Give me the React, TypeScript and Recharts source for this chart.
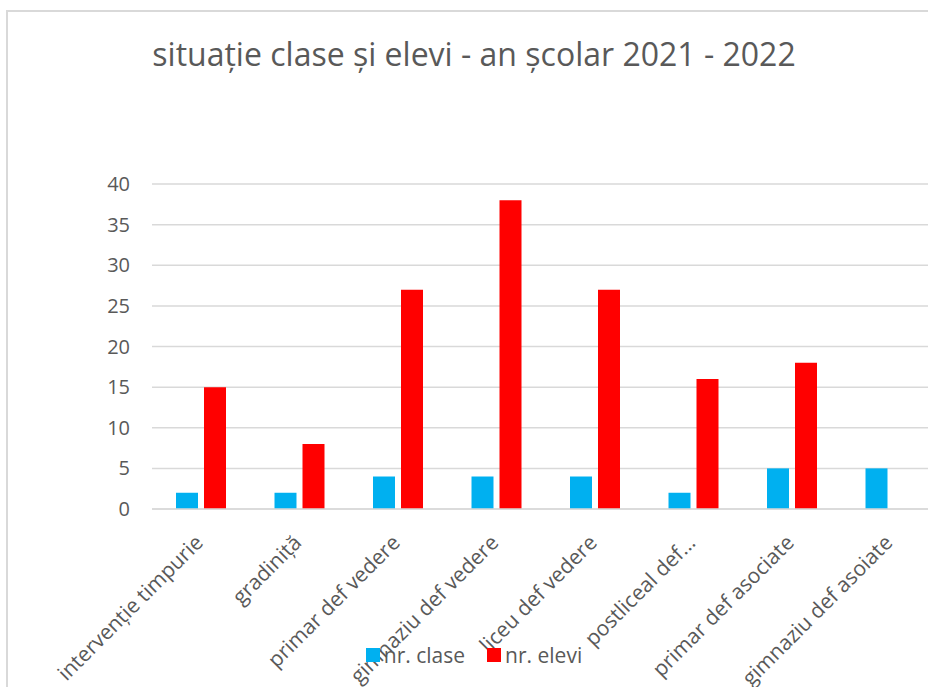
import React from 'react';
import { BarChart, Bar, XAxis, YAxis, CartesianGrid, Legend } from 'recharts';

const categories = [
  'intervenție timpurie',
  'gradiniță',
  'primar def vedere',
  'gimnaziu def vedere',
  'liceu def vedere',
  'postliceal def...',
  'primar def asociate',
  'gimnaziu def asoiate',
];
const nrClase = [2, 2, 4, 4, 4, 2, 5, 5];
const nrElevi: (number | null)[] = [15, 8, 27, 38, 27, 16, 18, null];
const yTicks = [0, 5, 10, 15, 20, 25, 30, 35, 40];
const seriesNames = ['nr. clase', 'nr. elevi'];
const seriesColors = ['#00B0F0', '#FF0000'];
const title = 'situație clase și elevi - an școlar 2021 - 2022';

const data = categories.map((c, i) => ({ cat: c, clase: nrClase[i], elevi: nrElevi[i] }));

const FONT = '"Open Sans", sans-serif';
const TXT = '#595959';

const XTick = (props: any) => {
  const { x, y, payload } = props;
  return (
    <g transform={`translate(${x + 3},${y + 27})`}>
      <text
        x={0}
        y={0}
        textAnchor="end"
        transform="rotate(-45)"
        fontFamily={FONT}
        fontSize={21}
        fill={TXT}
      >
        {payload.value}
      </text>
    </g>
  );
};

const LegendContent = () => (
  <div style={{ display: 'flex', justifyContent: 'center', alignItems: 'center', fontFamily: FONT, fontSize: 21, color: TXT }}>
    {seriesNames.map((n, i) => (
      <div key={n} style={{ display: 'flex', alignItems: 'center', marginRight: i === 0 ? 22 : 0 }}>
        <div style={{ width: 14, height: 14, background: seriesColors[i], marginRight: 4 }} />
        <span style={{ lineHeight: '22px' }}>{n}</span>
      </div>
    ))}
  </div>
);

export default function App() {
  return (
    <div style={{ position: 'fixed', left: 0, top: 0, width: 928, height: 687, overflow: 'hidden', background: '#fff' }}>
      <div
        style={{
          position: 'absolute',
          left: 6,
          top: 10,
          width: 932,
          height: 680,
          border: '2px solid #d9d9d9',
          background: '#fff',
        }}
      >
        <div
          style={{
            position: 'absolute',
            left: 0,
            top: 24,
            width: 932,
            textAlign: 'center',
            fontFamily: FONT,
            fontSize: 32,
            color: TXT,
            lineHeight: '36px',
            whiteSpace: 'nowrap',
          }}
        >
          {title}
        </div>
        <BarChart
          width={932}
          height={680}
          data={data}
          margin={{ top: 172, right: 0, left: 0, bottom: 11 }}
          barSize={22}
          barGap={6}
        >
          <CartesianGrid vertical={false} stroke="#d9d9d9" strokeWidth={1.5} />
          <XAxis
            dataKey="cat"
            interval={0}
            height={150}
            tickLine={false}
            axisLine={{ stroke: '#d9d9d9', strokeWidth: 1.5 }}
            tick={<XTick />}
          />
          <YAxis
            width={144}
            domain={[0, 40]}
            ticks={yTicks}
            axisLine={false}
            tickLine={false}
            tickMargin={16}
            tick={{ fontFamily: FONT, fontSize: 20, fill: TXT }}
          />
          <Legend
            layout="vertical"
            align="center"
            verticalAlign="bottom"
            content={<LegendContent />}
            wrapperStyle={{ position: 'absolute', left: 0, top: 632, width: 932 }}
          />
          <Bar dataKey="clase" name={seriesNames[0]} fill={seriesColors[0]} isAnimationActive={false} />
          <Bar dataKey="elevi" name={seriesNames[1]} fill={seriesColors[1]} isAnimationActive={false} />
        </BarChart>
      </div>
    </div>
  );
}
